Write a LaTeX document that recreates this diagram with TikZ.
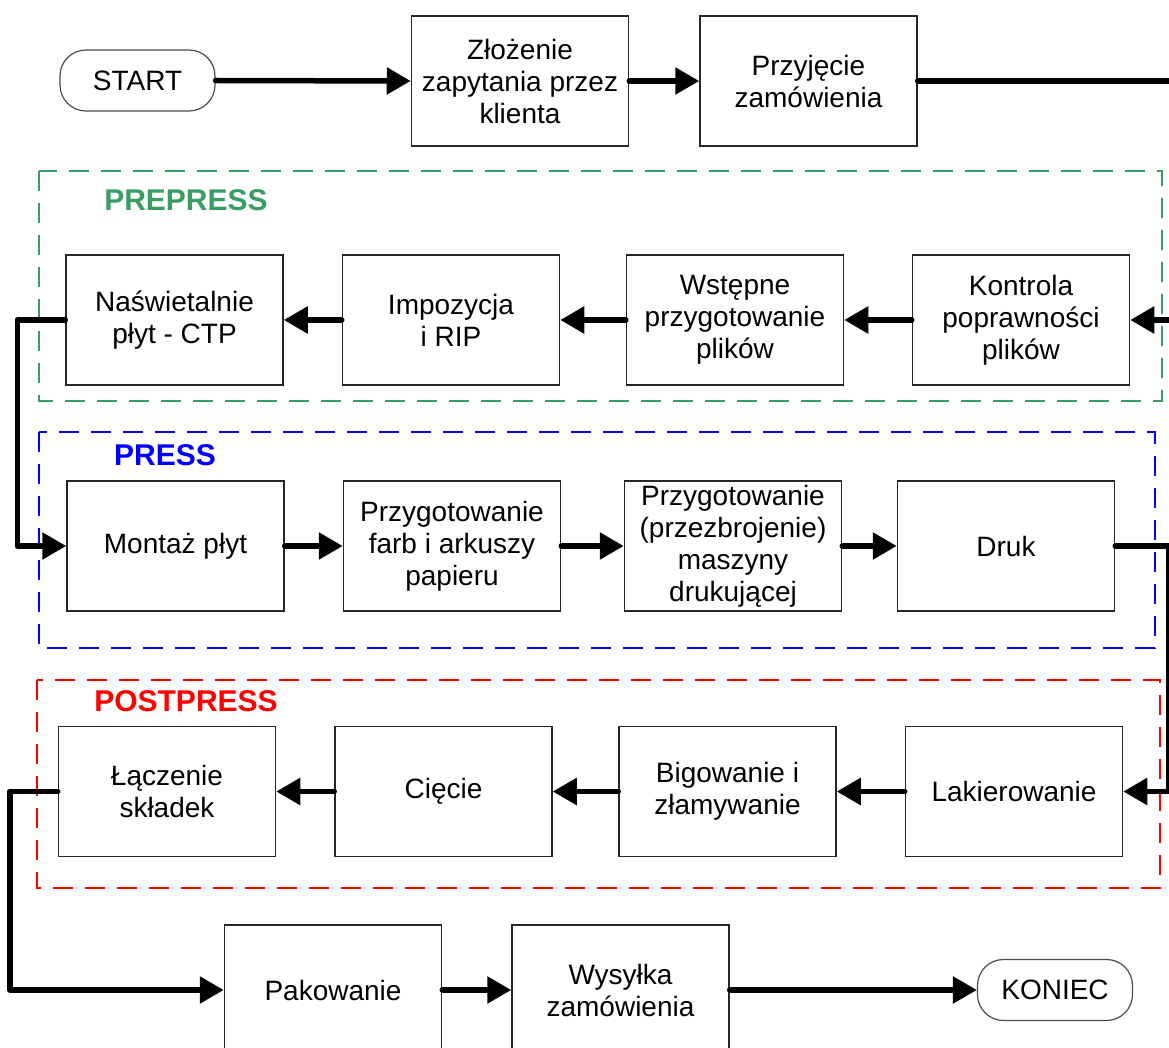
\documentclass[tikz,border=0pt]{standalone}
\usepackage{fontspec}
\setmainfont{Liberation Sans}
\usetikzlibrary{arrows.meta}
\definecolor{preGreen}{RGB}{58,158,100}
\definecolor{pressBlue}{RGB}{0,0,255}
\definecolor{postRed}{RGB}{255,0,0}
\tikzset{
  stepbox/.style={draw=black!85, line width=0.75pt, minimum width=108.5pt, minimum height=65pt,
    inner sep=0pt, align=center, font=\fontsize{14pt}{16pt}\selectfont},
  terminal/.style={draw=black!70, line width=0.6pt, rounded corners=13pt, minimum width=77.5pt,
    minimum height=30.5pt, inner sep=0pt, font=\fontsize{14pt}{16pt}\selectfont},
  flow/.style={line width=2.75pt, line cap=round, line join=round,
    -{Triangle[length=12pt,width=13pt]}},
  frame/.style={line width=1pt, dash pattern=on 10pt off 6pt},
  phase/.style={font=\fontsize{15pt}{17pt}\selectfont\bfseries, inner sep=0pt}
}
\begin{document}
\begin{tikzpicture}[x=0.5pt,y=-0.5pt]
\useasboundingbox (0,0) rectangle (1169,1048);

% phase frames
\draw[frame, preGreen] (39,171) rectangle (1162,401);
\draw[frame, pressBlue, line width=0.8pt] (39,432) rectangle (1155,648);
\draw[frame, postRed] (37,680) rectangle (1160,888);
\node[phase, text=preGreen] (lpre) at (186,200) {PREPRESS};
\node[phase, text=pressBlue] (lpress) at (165,455) {PRESS};
\node[phase, text=postRed] (lpost) at (186,701) {POSTPRESS};

% order intake
\node[terminal] (start) at (137.5,80.5) {START};
\node[stepbox] (zap) at (520,81) {Złożenie\\zapytania przez\\klienta};
\node[stepbox] (zam) at (808.5,81) {Przyjęcie\\zamówienia};

% prepress
\node[stepbox] (nas) at (174.5,320) {Naświetalnie\\płyt - CTP};
\node[stepbox] (imp) at (451,320) {Impozycja\\i RIP};
\node[stepbox] (wst) at (735,320) {Wstępne\\przygotowanie\\plików};
\node[stepbox] (kon) at (1021,320) {Kontrola\\poprawności\\plików};

% press
\node[stepbox] (mon) at (175.5,546) {Montaż płyt};
\node[stepbox] (farb) at (452,546) {Przygotowanie\\farb i arkuszy\\papieru};
\node[stepbox] (masz) at (733,546) {Przygotowanie\\(przezbrojenie)\\maszyny\\drukującej};
\node[stepbox] (druk) at (1006,546) {Druk};

% postpress
\node[stepbox] (lacz) at (167,791.5) {Łączenie\\składek};
\node[stepbox] (ciec) at (443.5,791.5) {Cięcie};
\node[stepbox] (big) at (727.5,791.5) {Bigowanie i\\złamywanie};
\node[stepbox] (lak) at (1014,791.5) {Lakierowanie};

% dispatch
\node[stepbox] (pak) at (333,990) {Pakowanie};
\node[stepbox] (wys) at (620.5,990) {Wysyłka\\zamówienia};
\node[terminal] (koniec) at (1055,990) {KONIEC};

% connectors
\draw[flow] (start.east) -- (zap.west);
\draw[flow] (zap.east) -- (zam.west);
\draw[flow] (zam.east) -- ++(270,0) |- (kon.east);
\draw[flow] (kon.west) -- (wst.east);
\draw[flow] (wst.west) -- (imp.east);
\draw[flow] (imp.west) -- (nas.east);
\draw[flow] (nas.west) -- ++(-48,0) |- (mon.west);
\draw[flow] (mon.east) -- (farb.west);
\draw[flow] (farb.east) -- (masz.west);
\draw[flow] (masz.east) -- (druk.west);
\draw[flow] (druk.east) -- ++(53,0) |- (lak.east);
\draw[flow] (lak.west) -- (big.east);
\draw[flow] (big.west) -- (ciec.east);
\draw[flow] (ciec.west) -- (lacz.east);
\draw[flow] (lacz.west) -- ++(-48,0) |- (pak.west);
\draw[flow] (pak.east) -- (wys.west);
\draw[flow] (wys.east) -- (koniec.west);
\end{tikzpicture}
\end{document}
